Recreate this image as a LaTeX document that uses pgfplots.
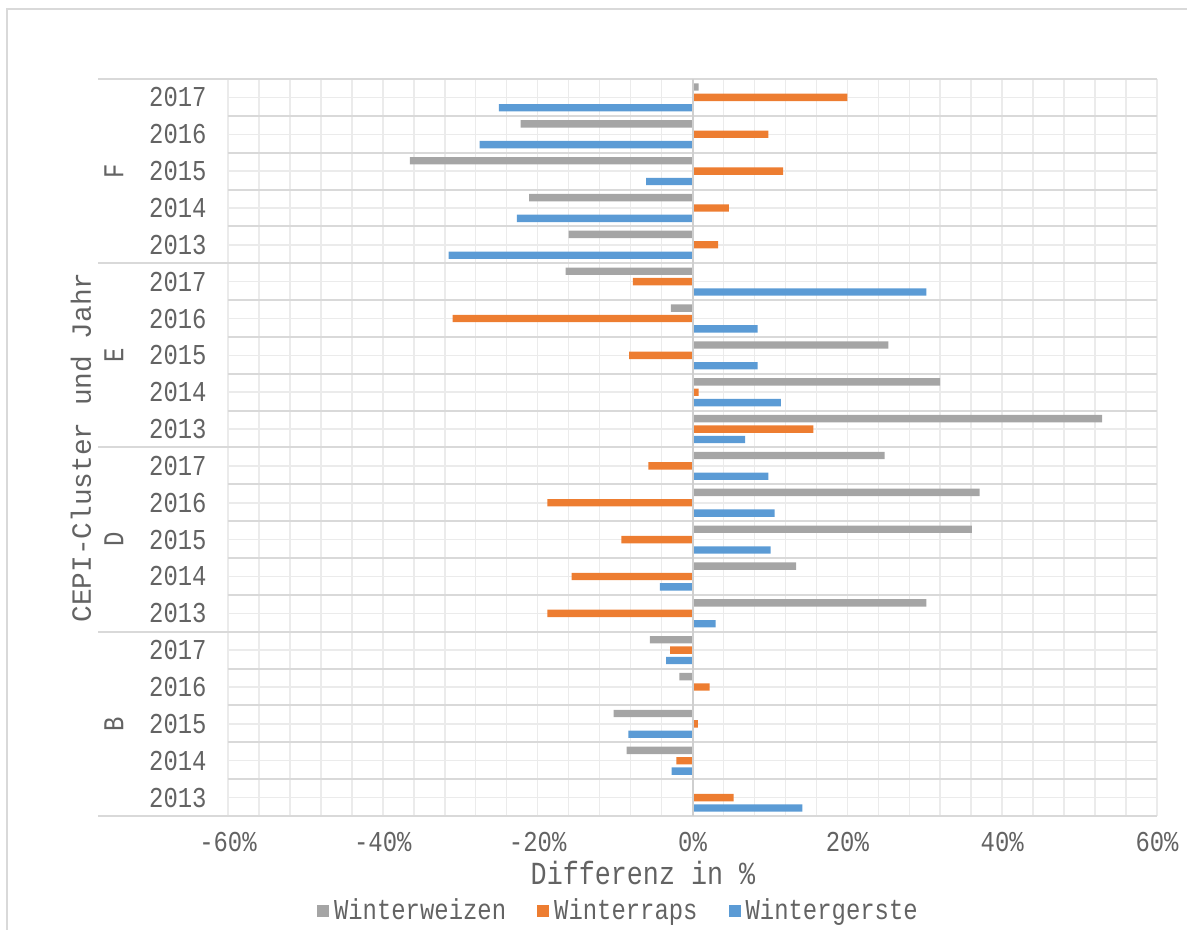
\documentclass[border=0pt]{standalone}
\usepackage{pgfplots}
\pgfplotsset{compat=1.18}
\usepackage{pgfplotstable}
\usepackage{fontspec}
\setmainfont{Liberation Mono}[FakeStretch=0.83]
\newfontfamily\monoN{Liberation Mono}
\definecolor{cGray}{HTML}{A5A5A5}
\definecolor{cOrange}{HTML}{ED7D31}
\definecolor{cBlue}{HTML}{5B9BD5}
\definecolor{textC}{HTML}{636363}
\definecolor{gridL}{HTML}{EBEBEB}
\definecolor{gridD}{HTML}{D9D9D9}
\definecolor{gridZ}{HTML}{CFCFCF}

% i: 0 = B 2013 (bottom) ... 19 = F 2017 (top)
% g = Winterweizen, o = Winterraps, b = Wintergerste
\pgfplotstableread{
i g o b
0 0 5.3 14.2
1 -8.5 -2.1 -2.7
2 -10.2 0.7 -8.3
3 -1.7 2.2 0
4 -5.5 -2.9 -3.4
5 30.2 -18.75 3.0
6 13.4 -15.6 -4.2
7 36.1 -9.2 10.1
8 37.1 -18.75 10.6
9 24.8 -5.7 9.8
10 52.9 15.6 6.8
11 32.0 0.8 11.4
12 25.3 -8.2 8.4
13 -2.8 -31.0 8.4
14 -16.4 -7.7 30.2
15 -16.0 3.3 -31.5
16 -21.1 4.7 -22.7
17 -36.5 11.7 -6.0
18 -22.2 9.8 -27.5
19 0.8 20.0 -25.0
}\data

\begin{document}
\begin{tikzpicture}
\path[use as bounding box] (-114pt,-57pt) rectangle (479.5pt,408pt);
\draw[gridD, line width=0.75pt] (-110.5pt,-60pt) -- (-110.5pt,403.5pt) -- (485pt,403.5pt);
\begin{axis}[
  at={(0pt,0pt)}, anchor=south west,
  scale only axis, width=464.5pt, height=368.5pt,
  xbar,
  xmin=-60, xmax=60, ymin=-0.5, ymax=19.5,
  clip=false,
  axis line style={draw=none},
  major tick length=0pt, minor tick length=0pt,
  tick style={draw=none},
  xtick={-60,-40,-20,0,20,40,60},
  xticklabels={-60\%,-40\%,-20\%,0\%,20\%,40\%,60\%},
  minor x tick num=4,
  xmajorgrids, xminorgrids,
  major grid style={draw=gridL, line width=0.75pt},
  minor grid style={draw=gridL, line width=0.75pt},
  ytick={0,...,19},
  yticklabels={2013,2014,2015,2016,2017,2013,2014,2015,2016,2017,2013,2014,2015,2016,2017,2013,2014,2015,2016,2017},
  ymajorgrids,
  extra y ticks={-0.5,0.5,1.5,2.5,3.5,4.5,5.5,6.5,7.5,8.5,9.5,10.5,11.5,12.5,13.5,14.5,15.5,16.5,17.5,18.5,19.5},
  extra y tick labels={},
  extra y tick style={major grid style={draw=gridD, line width=1pt}},
  ticklabel style={font=\fontsize{14.4}{17}\selectfont, text=textC},
  xticklabel style={anchor=base, inner sep=0pt, yshift=-18pt},
  yticklabel style={anchor=east, inner sep=0pt, xshift=-10.5pt},
  xlabel={Differenz in \%},
  xlabel style={at={(axis description cs:0.4467,-0.0935)}, anchor=base, font=\fontsize{16.1}{19}\selectfont, text=textC, inner sep=0pt},
  ylabel={CEPI-Cluster und Jahr},
  ylabel style={at={(axis description cs:-0.1582,0.5)}, anchor=center, font=\monoN\fontsize{13.9}{16}\selectfont, text=textC, inner sep=0pt},
  legend columns=3,
  legend style={at={(axis description cs:0.0954,-0.1289)}, anchor=west, draw=none, fill=none,
    font=\fontsize{14.4}{17}\selectfont, text=textC, inner sep=0pt, nodes={inner sep=0pt},
    /tikz/every odd column/.append style={column sep=2.5pt},
    /tikz/every even column/.append style={column sep=15.5pt}},
  legend image code/.code={\fill[#1] (0pt,-3pt) rectangle (6pt,3pt);},
]
\addplot[fill=cGray, draw=none, bar width=0.2, bar shift=0.282] table[x=g, y=i]{\data};
\addplot[fill=cOrange, draw=none, bar width=0.2, bar shift=0] table[x=o, y=i]{\data};
\addplot[fill=cBlue, draw=none, bar width=0.2, bar shift=-0.282] table[x=b, y=i]{\data};
\legend{Winterweizen,Winterraps,Wintergerste}

\draw[gridZ, line width=1pt] (axis cs:0,-0.5) -- (axis cs:0,19.5);
\draw[gridD, line width=1pt] (axis cs:-60,-0.5) -- ++(-65pt,0pt);
\draw[gridD, line width=1pt] (axis cs:-60,4.5) -- ++(-65pt,0pt);
\draw[gridD, line width=1pt] (axis cs:-60,9.5) -- ++(-65pt,0pt);
\draw[gridD, line width=1pt] (axis cs:-60,14.5) -- ++(-65pt,0pt);
\draw[gridD, line width=1pt] (axis cs:-60,19.5) -- ++(-65pt,0pt);
\node[rotate=90, text=textC, font=\fontsize{14.4}{17}\selectfont] at ([xshift=-57pt]axis cs:-60,2) {B};
\node[rotate=90, text=textC, font=\fontsize{14.4}{17}\selectfont] at ([xshift=-57pt]axis cs:-60,7) {D};
\node[rotate=90, text=textC, font=\fontsize{14.4}{17}\selectfont] at ([xshift=-57pt]axis cs:-60,12) {E};
\node[rotate=90, text=textC, font=\fontsize{14.4}{17}\selectfont] at ([xshift=-57pt]axis cs:-60,17) {F};
\end{axis}
\end{tikzpicture}
\end{document}
